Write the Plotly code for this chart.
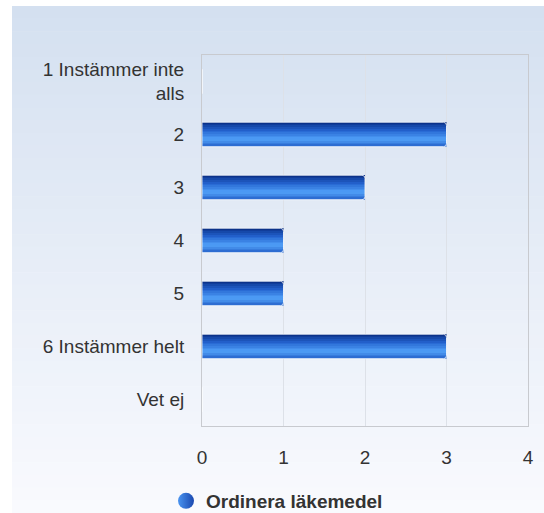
import plotly.graph_objects as go

# data
categories = ["1 Instämmer inte<br>alls", "2", "3", "4", "5", "6 Instämmer helt", "Vet ej"]
values = [0, 3, 2, 1, 1, 3, 0]
series_name = "Ordinera läkemedel"
x_ticks = [0, 1, 2, 3, 4]

W, H = 544, 513
PLOT_L, PLOT_R, PLOT_T, PLOT_B = 202, 528, 55, 426
BAR_W = 0.46
N_STRIPS = 14


def lerp(c1, c2, t):
    return tuple(round(a + (b - a) * t) for a, b in zip(c1, c2))


def bar_color(t):
    # vertical gradient of the bars, t=0 top, t=1 bottom
    stops = [(0.0, (8, 44, 130)), (0.35, (36, 100, 208)), (0.72, (80, 160, 248)), (1.0, (40, 102, 205))]
    for (t0, c0), (t1, c1) in zip(stops, stops[1:]):
        if t <= t1:
            return "rgb(%d,%d,%d)" % lerp(c0, c1, (t - t0) / (t1 - t0))
    return "rgb(%d,%d,%d)" % stops[-1][1]


def px_x(px):
    return (px - PLOT_L) / (PLOT_R - PLOT_L)


def px_y(py):
    return (PLOT_B - py) / (PLOT_B - PLOT_T)


fig = go.Figure()

# bars drawn as horizontal strips to fake the gradient
step = BAR_W / N_STRIPS
for i in range(N_STRIPS):
    fig.add_trace(go.Bar(
        x=values, y=categories, orientation="h",
        width=step * 1.02, offset=-BAR_W / 2 + i * step,
        marker=dict(color=bar_color((i + 0.5) / N_STRIPS), line=dict(width=0)),
        showlegend=False, hoverinfo="skip",
    ))

# light outline round each bar
fig.add_trace(go.Bar(
    x=values, y=categories, orientation="h",
    width=BAR_W, offset=-BAR_W / 2,
    marker=dict(color="rgba(0,0,0,0)", line=dict(width=1, color="rgba(255,255,255,0.8)"), cornerradius=3),
    name=series_name, showlegend=False,
))

# legend entry with round symbol
fig.add_trace(go.Scatter(
    x=[None], y=[None], mode="markers", name=series_name,
    marker=dict(symbol="circle", size=17, color="#4a94f0", line=dict(width=0),
                gradient=dict(type="horizontal", color="#1a48b0")),
))

# background gradient
shapes = []
top_c, bot_c = (212, 224, 240), (249, 250, 254)
y_top, y_bot = 6, H
n_bg = 40
for i in range(n_bg):
    a = y_top + (y_bot - y_top) * i / n_bg
    b = y_top + (y_bot - y_top) * (i + 1) / n_bg
    shapes.append(dict(
        type="rect", xref="paper", yref="paper", layer="below",
        x0=px_x(12), x1=px_x(W + 2), y0=px_y(b + 0.5), y1=px_y(a),
        fillcolor="rgb(%d,%d,%d)" % lerp(top_c, bot_c, (i + 0.5) / n_bg),
        line=dict(width=0),
    ))

fig.update_layout(
    width=W, height=H,
    margin=dict(l=PLOT_L, r=W - PLOT_R, t=PLOT_T, b=H - PLOT_B, autoexpand=False),
    paper_bgcolor="white",
    plot_bgcolor="rgba(0,0,0,0)",
    barmode="overlay",
    shapes=shapes,
    font=dict(family="Liberation Sans, Arial, sans-serif", size=19, color="#333333"),
    xaxis=dict(
        range=[0, 4], tickvals=x_ticks, showgrid=True, gridcolor="#dde1e8", gridwidth=1,
        zeroline=False, showline=True, mirror=True, linecolor="#c8cacf", linewidth=1,
        ticklabelstandoff=14, fixedrange=True,
    ),
    yaxis=dict(
        autorange="reversed", showgrid=False, zeroline=False,
        showline=True, mirror=True, linecolor="#c8cacf", linewidth=1,
        ticklabelstandoff=13, fixedrange=True,
    ),
    legend=dict(
        orientation="h", x=px_x(166), xanchor="left", y=px_y(501), yanchor="middle",
        bgcolor="rgba(0,0,0,0)", font=dict(size=19, color="#333333", weight="bold"),
    ),
    showlegend=True,
)

fig.write_html(
    "out.html",
    config={"displayModeBar": False},
    post_script="document.body.style.margin='0';document.body.style.overflow='hidden';",
)
